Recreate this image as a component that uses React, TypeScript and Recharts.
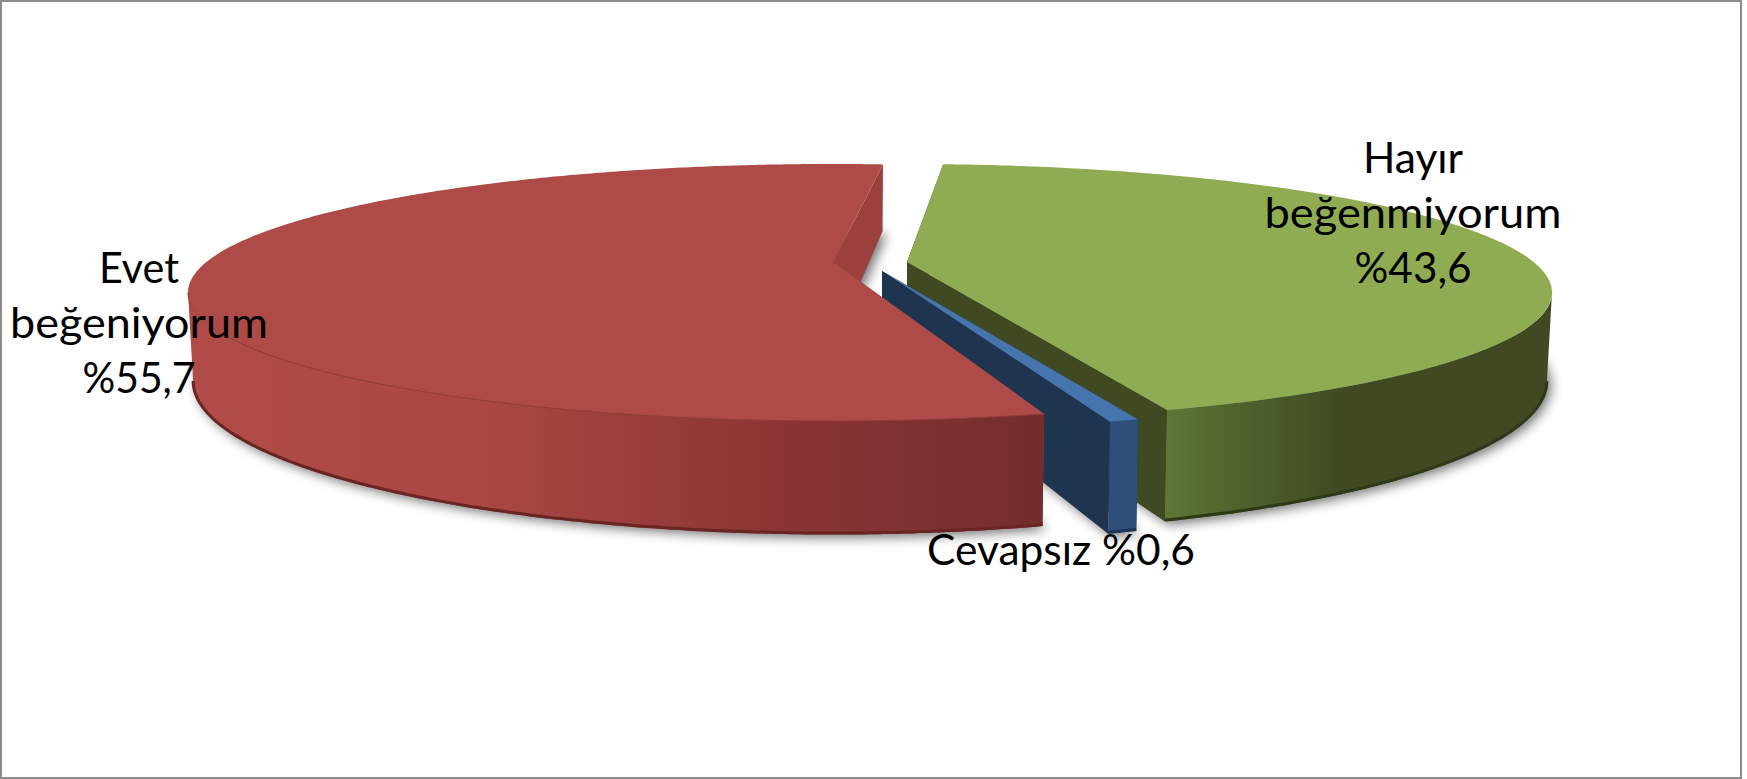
import React from "react";
import { PieChart, Pie } from "recharts";

const categories = ["Hayır beğenmiyorum", "Cevapsız", "Evet beğeniyorum"];
const percentages = [43.6, 0.6, 55.7];

const chartData = categories.map((name, i) => ({ name, value: percentages[i] }));

const WIDTH = 1747;
const HEIGHT = 779;
const CX = 833;
const CY = 292.5;
const RADIUS = 645;
const FIRST_ANGLE = 85.9;

// the 3d look: the circle is seen through a perspective, so the pie centre sits above the ellipse centre
const FLATTEN = 128.5 / 645;
const TILT = 0.237;
const DEPTH = 90;
const BOTTOM_RX = 0.992;
const BOTTOM_RY = 1.183;

const sliceStyles = [
  {
    dx: 74, dy: 0, turn: 0,
    top: "#8fac53", face: "#3f4a22", band: "#2e3918", seam: "none",
    wall: [[0, "#607636"], [0.12, "#54682f"], [0.45, "#3f4a22"], [1, "#3f4a22"]],
    labelX: 1413, labelY: 173, labelWidths: [100, 297, 117],
  },
  {
    dx: 49, dy: 9, turn: -0.3,
    top: "#4675ae", face: "#1f344f", band: "#1d3552", seam: "none",
    wall: [[0, "#2e4f7a"], [1, "#2e4f7a"]],
    labelX: 1061, labelY: 565, labelWidths: [268],
  },
  {
    dx: 0, dy: 0, turn: -1.56,
    top: "#ae4a47", face: "#9c403d", band: "#692524", seam: "#8f3a38",
    wall: [[0, "#b04b48"], [0.35, "#aa4744"], [0.69, "#8a3533"], [1, "#742d2c"]],
    labelX: 139, labelY: 283, labelWidths: [80, 258, 113],
  },
];

const rings = (cx: number, cy: number, r: number, s: any) => {
  const ry = r * FLATTEN;
  return {
    top: { cx: cx + s.dx, cy: cy + s.dy, rx: r, ry },
    bottom: { cx: cx + s.dx, cy: cy + s.dy + DEPTH, rx: r * BOTTOM_RX, ry: ry * BOTTOM_RY },
  };
};

const project = (deg: number, ring: any) => {
  const a = (deg * Math.PI) / 180;
  const d = 1 + TILT * Math.sin(a);
  return [
    ring.cx + (ring.rx * Math.cos(a) * Math.sqrt(1 - TILT * TILT)) / d,
    ring.cy - (ring.ry * (Math.sin(a) + TILT)) / d,
  ];
};

const apex = (ring: any) => [ring.cx, ring.cy - ring.ry * TILT];

const arc = (from: number, to: number, ring: any) => {
  const pts: number[][] = [];
  const steps = Math.max(2, Math.ceil(Math.abs(to - from) * 2));
  for (let i = 0; i <= steps; i++) pts.push(project(from + ((to - from) * i) / steps, ring));
  return pts;
};

const toPath = (pts: number[][], close = true) =>
  pts.map((p, i) => `${i ? "L" : "M"}${p[0].toFixed(1)} ${p[1].toFixed(1)}`).join(" ") + (close ? " Z" : "");

const sliceRange = (props: any, s: any) => {
  const lo = Math.min(props.startAngle, props.endAngle) + s.turn;
  const hi = Math.max(props.startAngle, props.endAngle) + s.turn;
  const shift = lo < 0 ? 360 : 0;
  return [lo + shift, hi + shift];
};

const ShadowShape = (props: any) => {
  const s = sliceStyles[props.index];
  const [lo, hi] = sliceRange(props, s);
  const { bottom } = rings(props.cx, props.cy, props.outerRadius, s);
  return (
    <g>
      <defs>
        <filter id={`blur-${props.index}`} filterUnits="userSpaceOnUse" x="0" y="0" width={WIDTH} height={HEIGHT}>
          <feGaussianBlur stdDeviation="6" />
        </filter>
      </defs>
      <path
        d={toPath([apex(bottom), ...arc(lo, hi, bottom)])}
        transform="translate(4 3)"
        fill="#000"
        fillOpacity={0.55}
        filter={`url(#blur-${props.index})`}
      />
    </g>
  );
};

const SliceShape = (props: any) => {
  const s = sliceStyles[props.index];
  const [lo, hi] = sliceRange(props, s);
  const { top, bottom } = rings(props.cx, props.cy, props.outerRadius, s);

  const face = (deg: number) =>
    toPath([apex(top), project(deg, top), project(deg, bottom), apex(bottom)]);

  // only the front of the rim can be seen
  const edge = (Math.asin(TILT) * 180) / Math.PI;
  const wallFrom = Math.max(lo, 180 + edge);
  const wallTo = Math.min(hi, 360 - edge);
  const wallTop = arc(wallFrom, wallTo, top);
  const wallBottom = arc(wallFrom, wallTo, bottom);
  const xs = wallTop.map((p) => p[0]);
  const gradId = `wall-${props.index}`;
  const bandRing = { ...bottom, cy: bottom.cy - 1.5 };

  return (
    <g>
      <defs>
        <linearGradient
          id={gradId}
          gradientUnits="userSpaceOnUse"
          x1={Math.min(...xs)}
          x2={Math.max(...xs)}
          y1={0}
          y2={0}
        >
          {s.wall.map((w: any, i: number) => (
            <stop key={i} offset={w[0]} stopColor={w[1]} />
          ))}
        </linearGradient>
      </defs>
      <path d={face(hi)} fill={s.face} />
      <path d={face(lo)} fill={s.face} />
      <path d={toPath([...wallTop, ...wallBottom.slice().reverse()])} fill={`url(#${gradId})`} />
      <path d={toPath(arc(wallFrom, wallTo, bandRing), false)} fill="none" stroke={s.band} strokeWidth={3} />
      <path d={toPath([apex(top), ...arc(lo, hi, top)])} fill={s.top} />
      <path d={toPath(wallTop, false)} fill="none" stroke={s.seam} strokeWidth={1} />
    </g>
  );
};

const renderLabel = (props: any) => {
  const s = sliceStyles[props.index];
  const name: string = props.name;
  const pct = `%${String(props.value).replace(".", ",")}`;
  const lines = name.includes(" ") ? [...name.split(" "), pct] : [`${name} ${pct}`];
  return (
    <g key={props.index}>
      {lines.map((line, i) => (
        <text
          key={i}
          x={s.labelX}
          y={s.labelY + i * 55}
          textAnchor="middle"
          textLength={s.labelWidths[i]}
          lengthAdjust="spacingAndGlyphs"
          fontFamily="Lato, sans-serif"
          fontSize={42}
          fill="#000"
        >
          {line}
        </text>
      ))}
    </g>
  );
};

export default function App() {
  return (
    <div style={{ position: "absolute", left: 0, top: 0, width: WIDTH, height: HEIGHT, background: "#fff" }}>
      <div
        style={{
          position: "absolute",
          left: 0,
          top: 0,
          width: 1742,
          height: 779,
          boxSizing: "border-box",
          border: "2.5px solid #8c8c8c",
        }}
      />
      <PieChart
        width={WIDTH}
        height={HEIGHT}
        margin={{ top: 0, right: 0, bottom: 0, left: 0 }}
        style={{ position: "absolute", left: 0, top: 0 }}
      >
        <Pie
          data={chartData}
          dataKey="value"
          nameKey="name"
          cx={CX}
          cy={CY}
          outerRadius={RADIUS}
          startAngle={FIRST_ANGLE}
          endAngle={FIRST_ANGLE - 360}
          stroke="none"
          shape={ShadowShape}
          isAnimationActive={false}
        />
        <Pie
          data={chartData}
          dataKey="value"
          nameKey="name"
          cx={CX}
          cy={CY}
          outerRadius={RADIUS}
          startAngle={FIRST_ANGLE}
          endAngle={FIRST_ANGLE - 360}
          stroke="none"
          shape={SliceShape}
          label={renderLabel}
          labelLine={false}
          isAnimationActive={false}
        />
      </PieChart>
    </div>
  );
}
